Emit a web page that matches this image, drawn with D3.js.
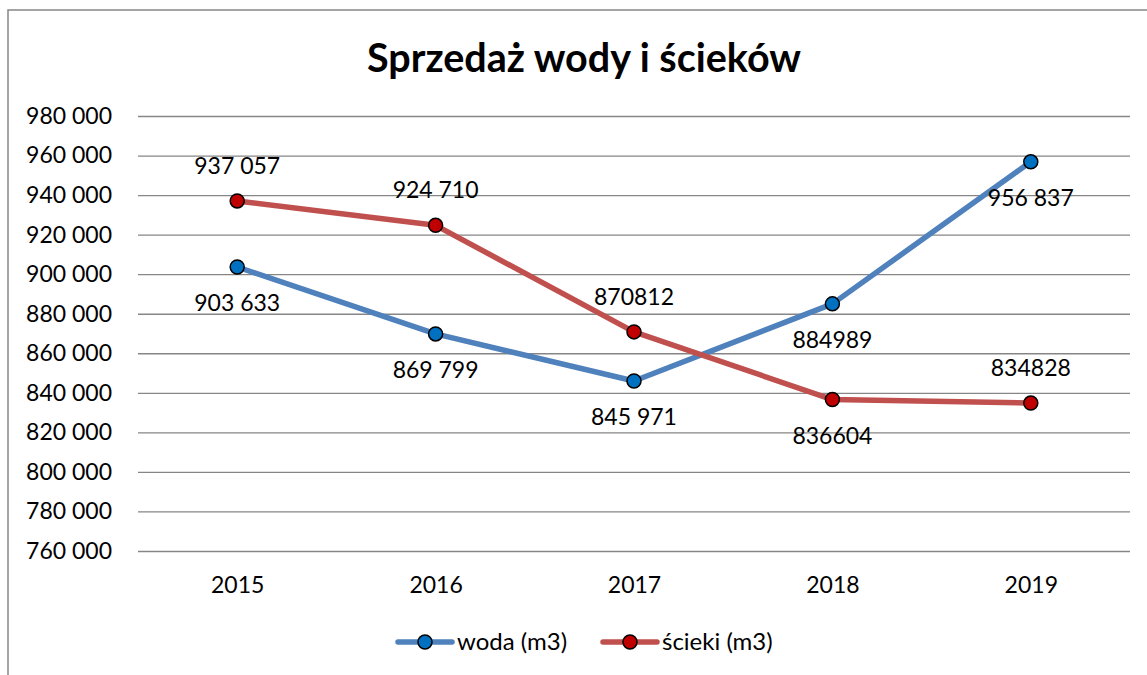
<!DOCTYPE html>
<html>
<head>
<meta charset="utf-8">
<script src="https://cdn.jsdelivr.net/npm/d3@7"></script>
<style>
  body { margin: 0; background: #fff; }
  text { font-family: Lato, 'Open Sans', sans-serif; fill: #000; }
</style>
</head>
<body>
<div id="chart"></div>
<script>
const years = ['2015', '2016', '2017', '2018', '2019'];
const woda = [903633, 869799, 845971, 884989, 956837];
const scieki = [937057, 924710, 870812, 836604, 834828];
const wodaLabels = ['903 633', '869 799', '845 971', '884989', '956 837'];
const sciekiLabels = ['937 057', '924 710', '870812', '836604', '834828'];
const yTicks = [760000, 780000, 800000, 820000, 840000, 860000, 880000, 900000, 920000, 940000, 960000, 980000];

let svgWidth = 1147, svgHeight = 675,
  plotLeft = 138, plotRight = 1130,
  plotTop = 116, plotBottom = 551;

const svg = d3.select('#chart')
  .append('svg')
  .attr('width', svgWidth)
  .attr('height', svgHeight);

// outer frame (only the left and top edges are visible)
svg.append('rect')
  .attr('x', 8).attr('y', 10)
  .attr('width', 1200).attr('height', 700)
  .attr('fill', 'none')
  .attr('stroke', '#868686')
  .attr('stroke-width', 1.5);

svg.append('text')
  .attr('x', 584).attr('y', 72)
  .attr('text-anchor', 'middle')
  .attr('font-size', 39.5)
  .attr('font-weight', 'bold')
  .text('Sprzedaż wody i ścieków');

const x = d3.scalePoint().domain(years).range([plotLeft, plotRight]).padding(0.5);
const y = d3.scaleLinear().domain([760000, 980000]).range([plotBottom, plotTop]);

// gridlines + y labels
const yAxis = d3.axisLeft(y)
  .tickValues(yTicks)
  .tickSize(-(plotRight - plotLeft))
  .tickPadding(26)
  .tickFormat(d => d3.format(',')(d).replace(/,/g, ' '));

const gy = svg.append('g')
  .attr('transform', `translate(${plotLeft},0)`)
  .call(yAxis);
gy.select('.domain').remove();
gy.selectAll('.tick line').attr('stroke', '#868686').attr('stroke-width', 1.3);
gy.selectAll('.tick text')
  .style('font-family', 'Lato, sans-serif')
  .attr('font-size', 23)
  .attr('fill', '#000');

// x labels
const xAxis = d3.axisBottom(x).tickSize(0).tickPadding(26);
const gx = svg.append('g')
  .attr('transform', `translate(0,${plotBottom})`)
  .call(xAxis);
gx.select('.domain').remove();
gx.selectAll('.tick text')
  .style('font-family', 'Lato, sans-serif')
  .attr('font-size', 23)
  .attr('fill', '#000');

const series = [
  { name: 'woda (m3)', values: woda, labels: wodaLabels, line: '#4F81BD', fill: '#0070C0',
    below: [true, true, true, true, true] },
  { name: 'ścieki (m3)', values: scieki, labels: sciekiLabels, line: '#C0504D', fill: '#C00000',
    below: [false, false, false, true, false] }
];

const line = d3.line()
  .x((d, i) => x(years[i]))
  .y(d => y(d));

series.forEach(s => {
  svg.append('path')
    .datum(s.values)
    .attr('d', line)
    .attr('fill', 'none')
    .attr('stroke', s.line)
    .attr('stroke-width', 5.5)
    .attr('stroke-linejoin', 'round');
});

series.forEach(s => {
  svg.selectAll(null)
    .data(s.values)
    .enter()
    .append('circle')
    .attr('cx', (d, i) => x(years[i]))
    .attr('cy', d => y(d))
    .attr('r', 7)
    .attr('fill', s.fill)
    .attr('stroke', '#000')
    .attr('stroke-width', 1.5);

  svg.selectAll(null)
    .data(s.values)
    .enter()
    .append('text')
    .attr('x', (d, i) => x(years[i]))
    .attr('y', (d, i) => y(d) + (s.below[i] ? 36 : -35))
    .attr('dy', '0.35em')
    .attr('text-anchor', 'middle')
    .attr('font-size', 23)
    .text((d, i) => s.labels[i]);
});

// legend
const legendX = [398, 603];
series.forEach((s, i) => {
  const g = svg.append('g').attr('transform', `translate(${legendX[i]},642)`);
  g.append('line')
    .attr('x1', 0).attr('x2', 54)
    .attr('stroke', s.line).attr('stroke-width', 5.5)
    .attr('stroke-linecap', 'round');
  g.append('circle')
    .attr('cx', 27).attr('r', 7)
    .attr('fill', s.fill).attr('stroke', '#000').attr('stroke-width', 1.5);
  g.append('text')
    .attr('x', 59).attr('dy', '0.35em')
    .attr('font-size', 24)
    .text(s.name);
});
</script>
</body>
</html>
